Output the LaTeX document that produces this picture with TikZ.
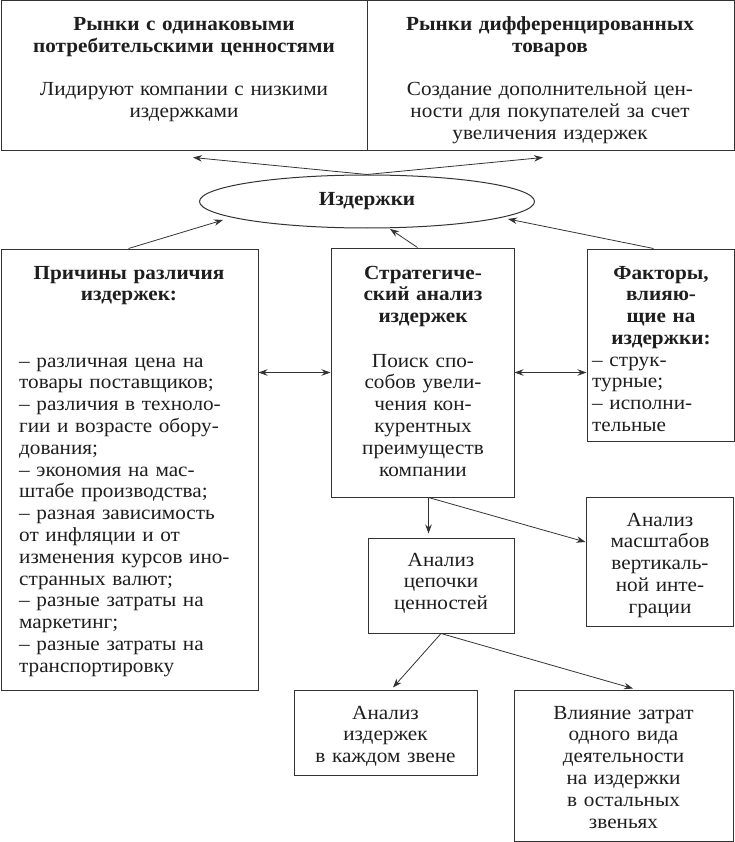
\documentclass[tikz,border=0pt]{standalone}
\usepackage{fontspec}
\setmainfont{Liberation Serif}[FakeStretch=1.06]
\usetikzlibrary{shapes.geometric,arrows.meta,calc}
\definecolor{ink}{HTML}{1E1E1E}
\definecolor{edge}{HTML}{333333}
\begin{document}
\begin{tikzpicture}[x=1pt,y=-1pt,
  box/.style={draw=edge,line width=1pt,inner sep=0pt,rectangle},
  txt/.style={text=ink,inner sep=0pt,anchor=base,align=center,text width=#1,
    font=\fontsize{20}{21.8}\selectfont},
  txt/.default=200pt,
  ltxt/.style={text=ink,inner sep=0pt,anchor=base west,align=left,text width=#1,
    font=\fontsize{20}{21.8}\selectfont},
  arr/.style={draw=edge,line width=0.8pt,-{Stealth[length=9pt,width=6.5pt]}},
  dbl/.style={draw=edge,line width=0.8pt,{Stealth[length=9pt,width=6.5pt]}-{Stealth[length=9pt,width=6.5pt]}}]
\useasboundingbox (0,0) rectangle (735,842);
% boxes
\node[box,minimum width=366pt,minimum height=150pt] (topL) at (184,76) {};
\node[box,minimum width=367pt,minimum height=150pt] (topR) at (550.5,76) {};
\node[draw=edge,line width=1pt,ellipse,minimum width=335pt,minimum height=53pt,inner sep=0pt,
  text=ink,font=\fontsize{20}{21.8}\selectfont\bfseries] (ell) at (367,201.5) {Издержки};
\node[box,minimum width=257pt,minimum height=441pt] (lbox) at (129.5,469.5) {};
\node[box,minimum width=183pt,minimum height=249pt] (mbox) at (422.5,372.5) {};
\node[box,minimum width=147pt,minimum height=192pt] (rbox) at (660.5,345) {};
\node[box,minimum width=147pt,minimum height=129pt] (mbx) at (659.5,561.5) {};
\node[box,minimum width=146pt,minimum height=95pt] (chain) at (441,585.5) {};
\node[box,minimum width=183pt,minimum height=85pt] (bl) at (385.5,732.5) {};
\node[box,minimum width=219pt,minimum height=151pt] (br) at (623.5,765.5) {};
% texts
\node[txt=350pt,font=\fontsize{20}{21.8}\selectfont\bfseries] (topLt) at (184,31) {Рынки с одинаковыми\\потребительскими ценностями};
\node[txt=350pt] (topLb) at (184,96) {Лидируют компании с низкими\\издержками};
\node[txt=350pt,font=\fontsize{20}{21.8}\selectfont\bfseries] (topRt) at (550,31) {Рынки дифференцированных\\товаров};
\node[txt=350pt] (topRb) at (550,96) {Создание дополнительной цен-\\ности для покупателей за счет\\увеличения издержек};
\node[txt=245pt,font=\fontsize{20}{21.8}\selectfont\bfseries] (lt) at (129,279) {Причины различия\\издержек:};
\node[ltxt=236pt] (ll) at (19,367) {– различная цена на\\товары поставщиков;\\– различия в техноло-\\гии и возрасте обору-\\дования;\\– экономия на мас-\\штабе производства;\\– разная зависимость\\от инфляции и от\\изменения курсов ино-\\странных валют;\\– разные затраты на\\маркетинг;\\– разные затраты на\\транспортировку};
\node[txt=178pt,font=\fontsize{20}{21.8}\selectfont\bfseries] (mt) at (423,279) {Стратегиче-\\ский анализ\\издержек};
\node[txt=178pt] (mb) at (423,367) {Поиск спо-\\собов увели-\\чения кон-\\курентных\\преимуществ\\компании};
\node[txt=144pt,font=\fontsize{20}{21.8}\selectfont\bfseries] (rt) at (661,279) {Факторы,\\влияю-\\щие на\\издержки:};
\node[ltxt=140pt] (rl) at (592,366) {– струк-\\турные;\\– исполни-\\тельные};
\node[txt=144pt] (mbxt) at (660,526) {Анализ\\масштабов\\вертикаль-\\ной инте-\\грации};
\node[txt=144pt] (chaint) at (441,566) {Анализ\\цепочки\\ценностей};
\node[txt=180pt] (blt) at (385.5,719) {Анализ\\издержек\\в каждом звене};
\node[txt=215pt] (brt) at (623.5,719) {Влияние затрат\\одного вида\\деятельности\\на издержки\\в остальных\\звеньях};
% connectors
\draw[arr] (ell.north) -- ($(topL.south)+(9,6)$);
\draw[arr] (ell.north) -- ($(topR.south)+(-7.5,6)$);
\draw[arr] ($(lbox.north)+(-1,0)$) -- ($(ell.center)+(-144,18.5)$);
\draw[arr] ($(mbox.north)+(-5,0)$) -- ($(ell.center)+(23,27.5)$);
\draw[arr] ($(rbox.north)+(-7,0)$) -- ($(ell.center)+(141,17.5)$);
\draw[dbl] (lbox.east |- mbox.west) -- (mbox.west);
\draw[dbl] (mbox.east) -- (rbox.west |- mbox.east);
\coordinate (ms) at ($(mbox.south)+(6,0)$);
\draw[arr,shorten >=4pt] (ms) -- (ms |- chain.north);
\draw[arr] (ms) -- ($(mbx.west)+(0,-19.5)$);
\draw[arr] (chain.south) -- ($(bl.north)+(7.5,-2)$);
\draw[arr] (chain.south) -- ($(br.north)+(9.5,-1)$);
\end{tikzpicture}
\end{document}
